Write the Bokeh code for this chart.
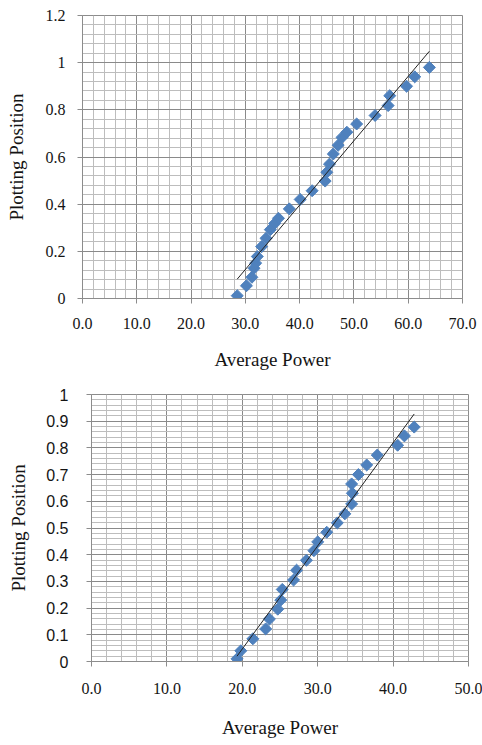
import numpy as np
from bokeh.plotting import figure
from bokeh.models import FixedTicker
from bokeh.embed import file_html
from bokeh.resources import INLINE

# ---- data: upper chart ----
power_a = [28.5, 30.2, 31.2, 31.6, 31.9, 32.2, 33.0, 33.8, 34.6, 35.4, 36.1,
           38.1, 40.1, 42.3, 44.7, 45.0, 45.5, 46.2, 47.1, 47.8, 48.7, 50.5,
           53.9, 56.3, 56.6, 59.7, 61.2, 63.9]
pos_a = [0.012, 0.054, 0.090, 0.128, 0.150, 0.178, 0.220, 0.255, 0.292, 0.318,
         0.340, 0.380, 0.420, 0.457, 0.498, 0.535, 0.570, 0.613, 0.650, 0.683,
         0.705, 0.740, 0.776, 0.818, 0.860, 0.900, 0.940, 0.980]
trend_a = (0.0273, -0.696)  # slope, intercept
xticks_a = [0, 10, 20, 30, 40, 50, 60, 70]
xlabels_a = ["0.0", "10.0", "20.0", "30.0", "40.0", "50.0", "60.0", "70.0"]
yticks_a = [0, 0.2, 0.4, 0.6, 0.8, 1.0, 1.2]
ylabels_a = ["0", "0.2", "0.4", "0.6", "0.8", "1", "1.2"]

# ---- data: lower chart ----
power_b = [19.3, 19.8, 21.4, 23.1, 23.6, 24.7, 25.1, 25.3, 26.8, 27.2, 28.5,
           29.5, 30.0, 31.2, 32.6, 33.6, 34.5, 34.6, 34.5, 35.4, 36.5, 37.9,
           40.6, 41.5, 42.8]
pos_b = [0.010, 0.040, 0.085, 0.122, 0.159, 0.196, 0.230, 0.270, 0.305, 0.342,
         0.379, 0.415, 0.448, 0.484, 0.519, 0.553, 0.590, 0.630, 0.665, 0.700,
         0.736, 0.773, 0.810, 0.845, 0.878]
trend_b = (0.0386, -0.725)
xticks_b = [0, 10, 20, 30, 40, 50]
xlabels_b = ["0.0", "10.0", "20.0", "30.0", "40.0", "50.0"]
yticks_b = [0, 0.1, 0.2, 0.3, 0.4, 0.5, 0.6, 0.7, 0.8, 0.9, 1.0]
ylabels_b = ["0", "0.1", "0.2", "0.3", "0.4", "0.5", "0.6", "0.7", "0.8", "0.9", "1"]

SERIF = "Liberation Serif"
SANS = "Liberation Sans"
BLUE = "#4F81BD"


def make_chart(xs, ys, trend, xticks, xlabels, yticks, ylabels, *,
               height, left, right, top, bottom, xminor, yminor,
               ytick_font, x_standoff, y_standoff, xtitle_standoff,
               ytitle_standoff):
    p = figure(width=482, height=height, output_backend="svg",
               toolbar_location=None,
               x_range=(xticks[0], xticks[-1]), y_range=(yticks[0], yticks[-1]),
               min_border_left=left, min_border_right=right,
               min_border_top=top, min_border_bottom=bottom)
    p.background_fill_color = "white"
    p.border_fill_color = "white"
    p.outline_line_color = "#8C8C8C"
    p.outline_line_width = 1

    minor_x = [v for v in np.arange(xticks[0], xticks[-1] + 1e-9, xminor)]
    minor_y = [v for v in np.arange(yticks[0], yticks[-1] + 1e-9, yminor)]
    p.xaxis.ticker = FixedTicker(ticks=xticks, minor_ticks=minor_x)
    p.yaxis.ticker = FixedTicker(ticks=yticks, minor_ticks=minor_y)
    p.xaxis.major_label_overrides = {t: s for t, s in zip(xticks, xlabels)}
    p.yaxis.major_label_overrides = {t: s for t, s in zip(yticks, ylabels)}

    for g in (p.xgrid, p.ygrid):
        g.grid_line_color = "#8A8A8A"
        g.grid_line_width = 1
        g.minor_grid_line_color = "#BDBDBD"
        g.minor_grid_line_width = 1

    for ax in (p.xaxis, p.yaxis):
        ax.axis_line_color = "#8C8C8C"
        ax.major_tick_line_color = "#8C8C8C"
        ax.major_tick_out = 5
        ax.major_tick_in = 0
        ax.minor_tick_out = 0
        ax.minor_tick_in = 0
        ax.major_label_text_color = "#141414"
        ax.axis_label_text_color = "#141414"
        ax.axis_label_text_font = SERIF
        ax.axis_label_text_font_style = "normal"
        ax.axis_label_text_font_size = "19px"

    p.xaxis.major_label_text_font = SERIF
    p.xaxis.major_label_text_font_size = "16px"
    p.yaxis.major_label_text_font = ytick_font
    p.yaxis.major_label_text_font_size = "16px"
    p.xaxis.major_label_standoff = x_standoff
    p.yaxis.major_label_standoff = y_standoff
    p.xaxis.axis_label = "Average Power"
    p.yaxis.axis_label = "Plotting Position"
    p.xaxis.axis_label_standoff = xtitle_standoff
    p.yaxis.axis_label_standoff = ytitle_standoff

    p.scatter(xs, ys, marker="square", angle=np.pi / 4, size=8.5,
              fill_color=BLUE, line_color=BLUE, line_width=1)

    slope, icpt = trend
    x0, x1 = min(xs), max(xs)
    p.line([x0, x1], [slope * x0 + icpt, slope * x1 + icpt],
           line_color="#222222", line_width=1)
    return p


top_chart = make_chart(power_a, pos_a, trend_a, xticks_a, xlabels_a,
                       yticks_a, ylabels_a,
                       height=372, left=82, right=20, top=15, bottom=74,
                       xminor=2, yminor=0.04, ytick_font=SERIF,
                       x_standoff=14, y_standoff=12, xtitle_standoff=17,
                       ytitle_standoff=16)
bottom_chart = make_chart(power_b, pos_b, trend_b, xticks_b, xlabels_b,
                          yticks_b, ylabels_b,
                          height=373, left=91, right=14, top=22, bottom=84,
                          xminor=2, yminor=0.02, ytick_font=SANS,
                          x_standoff=16, y_standoff=18, xtitle_standoff=20,
                          ytitle_standoff=14)

# two independent roots, stacked in the page flow
open("out.html", "w").write(file_html([top_chart, bottom_chart], INLINE))
